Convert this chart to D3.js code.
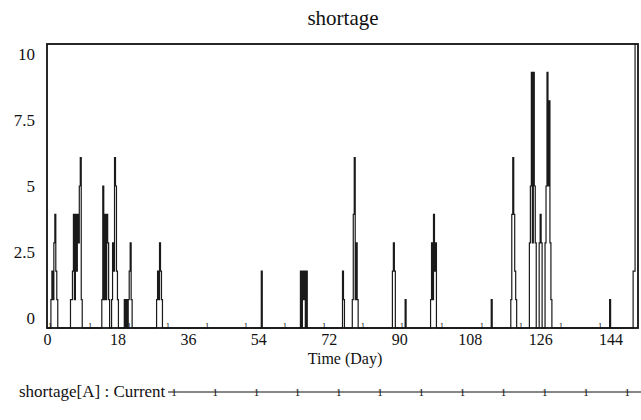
<!DOCTYPE html>
<html><head><meta charset="utf-8">
<script src="https://cdn.jsdelivr.net/npm/d3@7"></script>
<style>
body{margin:0;background:#fff}
svg{font-family:"Liberation Serif","Times New Roman",Tinos,"DejaVu Serif",serif}
svg text{font-family:"Liberation Serif","Times New Roman",Tinos,"DejaVu Serif",serif;fill:#111}
</style>
</head><body>
<svg id="c" width="641" height="420" font-family="Liberation Serif, serif"></svg>
<script>
// ---- data ----
const timeDays = [
  0,
  0.75,1.0,1.25,1.5,1.75,2.0,2.25,2.5,2.75,
  5.75,6.0,6.25,6.5,6.75,7.0,7.25,7.5,7.75,8.0,8.25,8.5,8.75,9.0,
  13.75,14.0,14.25,14.5,14.75,15.0,15.25,15.5,15.75,16.0,
  16.25,16.5,16.75,17.0,17.25,17.5,17.75,18.0,18.25,
  19.5,19.75,20.0,20.25,20.5,20.75,21.0,21.25,21.5,21.75,
  27.75,28.0,28.25,28.5,28.75,29.0,29.25,29.5,
  54.5,54.75,55.0,
  64.5,64.75,65.0,65.25,65.5,65.75,66.0,66.25,66.5,
  75.25,75.5,75.75,76.0,
  77.75,78.0,78.25,78.5,78.75,79.0,79.25,79.5,
  88.0,88.25,88.5,88.75,89.0,
  91.25,91.5,91.75,
  97.75,98.0,98.25,98.5,98.75,99.0,99.25,99.5,
  113.25,113.5,113.75,
  118.25,118.5,118.75,119.0,119.25,119.5,119.75,120.0,
  123.0,123.25,123.5,123.75,124.0,124.25,124.5,124.75,125.0,
  125.5,125.75,126.0,126.25,126.5,
  127.0,127.25,127.5,127.75,128.0,128.25,128.5,128.75,129.0,
  143.5,143.75,144.0,
  149.5,149.75,150.25,151
];
const shortageValues = [
  0,
  0,1,2,1,3,4,2,1,0,
  0,1,1,2,4,1,4,2,4,3,5,6,1,0,
  0,1,5,1,4,1,4,3,1,0,
  0,1,3,2,6,5,2,1,0,
  0,1,0,1,0,1,2,3,1,0,
  0,1,2,1,3,2,1,0,
  0,2,0,
  0,2,0,2,1,2,0,2,0,
  0,2,1,0,
  0,1,4,6,1,3,1,0,
  0,2,3,2,0,
  0,1,0,
  0,1,3,1,4,2,3,0,
  0,1,0,
  0,1,4,6,4,2,1,0,
  0,3,5,9,3,9,5,3,0,
  0,3,4,3,0,
  0,3,5,9,5,8,3,1,0,
  0,1,0,
  0,2,12,12
];
const markerTimes = [0.8,11.0,21.0,30.9,40.9,50.8,60.8,70.8,80.7,90.7,100.9,111.1,121.1,131.3,141.3];
const xTickValues = [0,18,36,54,72,90,108,126,144];
const yTickValues = [0,2.5,5,7.5,10];
const yTickLabels = ["0","2.5","5","7.5","10"];
const chartTitle = "shortage";
const xAxisTitle = "Time (Day)";
const legendLabel = "shortage[A] : Current";

// ---- drawing ----
const SERIF = '"Liberation Serif", "Times New Roman", Tinos, "DejaVu Serif", serif';
const svg = d3.select("#c");
const x = d3.scaleLinear().domain([0,151]).range([47,638]);
const y = d3.scaleLinear().domain([0,10]).range([328,44]);
const yLabelPos = d3.scaleLinear().domain([0,10]).range([318,54]);

svg.append("defs").append("clipPath").attr("id","plotclip")
  .append("rect").attr("x",46).attr("y",44).attr("width",594).attr("height",290);

function txt(sel){ return sel.attr("font-family",SERIF).style("font-family",SERIF).attr("fill","#111"); }

// title
txt(svg.append("text")).attr("x",343).attr("y",25).attr("text-anchor","middle")
  .style("font-size","21px").text(chartTitle);

// y labels
txt(svg.append("g").selectAll("text").data(yTickValues).join("text"))
  .attr("x",35).attr("y",d=>yLabelPos(d)).attr("dy","0.35em")
  .attr("text-anchor","end").style("font-size","17px")
  .text((d,i)=>yTickLabels[i]);

// x axis labels via d3 axis
const xAxis = d3.axisBottom(x).tickValues(xTickValues).tickSize(0).tickPadding(6);
const gx = svg.append("g").attr("transform","translate(0,328)").call(xAxis)
  .attr("font-family",SERIF).attr("font-size",null);
gx.select(".domain").remove();
txt(gx.selectAll("text")).style("font-size","16px");

txt(svg.append("text")).attr("x",345).attr("y",364).attr("text-anchor","middle")
  .style("font-size","16px").text(xAxisTitle);

// data line (Vensim-style stepped trace)
const pts = timeDays.map((t,i)=>[t,shortageValues[i]]);
const line = d3.line().x(d=>x(d[0])).y(d=>y(d[1])).curve(d3.curveStepAfter);
svg.append("path").datum(pts).attr("clip-path","url(#plotclip)")
  .attr("d",line).attr("fill","none").attr("stroke","#1a1a1a").attr("stroke-width",1.2);

// plot frame
svg.append("rect").attr("x",x(0)).attr("y",y(10)).attr("width",x(151)-x(0)).attr("height",y(0)-y(10))
  .attr("fill","none").attr("stroke","#111").attr("stroke-width",1.8);

// line markers "1"
txt(svg.append("g").selectAll("text").data(markerTimes).join("text"))
  .attr("x",d=>x(d)).attr("y",y(0)+1).attr("text-anchor","middle")
  .style("font-size","8.5px").text("1");

// legend
txt(svg.append("text")).attr("x",19).attr("y",397).style("font-size","17px").text(legendLabel);
svg.append("line").attr("x1",168).attr("x2",641).attr("y1",392).attr("y2",392)
  .attr("stroke","#111").attr("stroke-width",1.2);
txt(svg.append("g").selectAll("text").data(d3.range(12)).join("text"))
  .attr("x",d=>174+d*41.2).attr("y",396).attr("text-anchor","middle")
  .style("font-size","11px").text("1");
</script>
</body></html>
